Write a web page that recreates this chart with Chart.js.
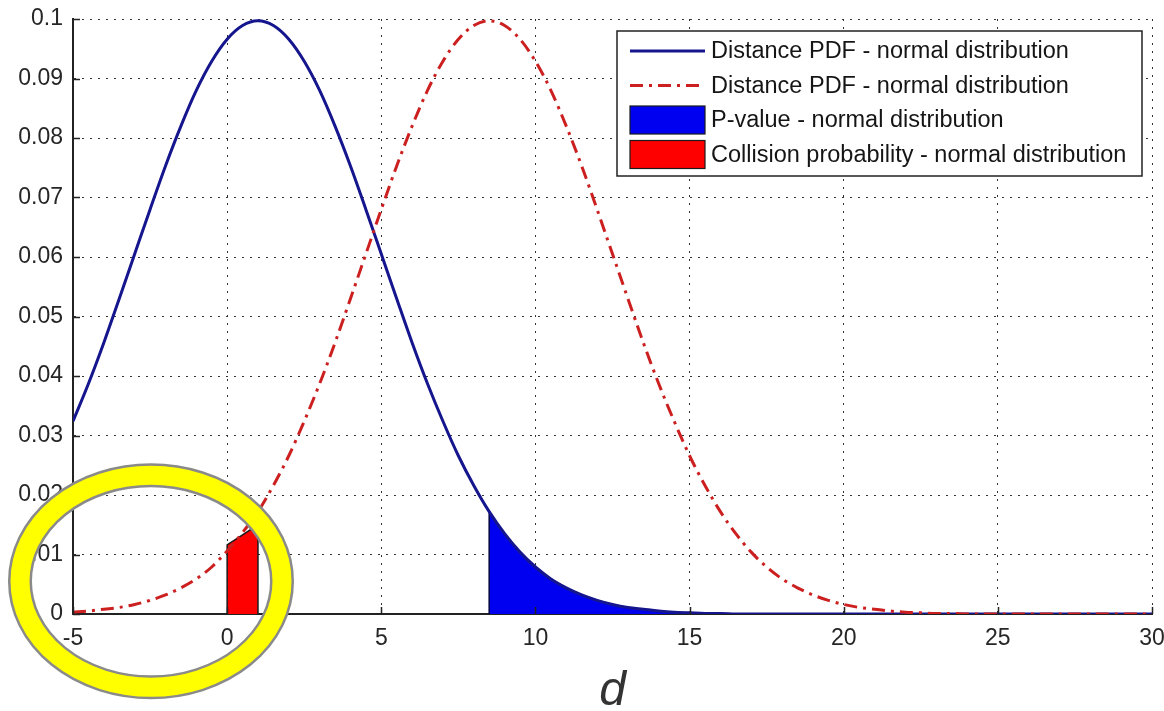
<!DOCTYPE html>
<html>
<head>
<meta charset="utf-8">
<script src="https://cdn.jsdelivr.net/npm/chart.js@4/dist/chart.umd.min.js"></script>
<style>
  html, body { margin: 0; padding: 0; background: #ffffff; }
  #wrap { width: 1164px; height: 711px; position: relative; }
</style>
</head>
<body>
<div id="wrap"><canvas id="c" width="1164" height="711"></canvas></div>
<script>
// ---- data ----
const xValues = [-5,-4.5,-4,-3.5,-3,-2.5,-2,-1.5,-1,-0.5,0,0.5,1,1.5,2,2.5,3,3.5,4,4.5,5,5.5,6,6.5,7,7.5,8,8.5,9,9.5,10,10.5,11,11.5,12,12.5,13,13.5,14,14.5,15,15.5,16,16.5,17,17.5,18,18.5,19,19.5,20,20.5,21,21.5,22,22.5,23,23.5,24,25,26,27,28,29,30];

const bluePdf = [0.0324,0.0387,0.0456,0.0530,0.0605,0.0680,0.0753,0.0820,0.0880,0.0929,0.0966,0.0989,0.0997,0.0989,0.0966,0.0929,0.0880,0.0820,0.0753,0.0680,0.0605,0.0530,0.0456,0.0387,0.0324,0.0266,0.0216,0.0172,0.0135,0.0104,0.0079,0.0059,0.0044,0.0032,0.0023,0.0016,0.0011,0.0008,0.0005,0.0003,0.0002,0.0001,0.0001,0,0,0,0,0,0,0,0,0,0,0,0,0,0,0,0,0,0,0,0,0,0];

const redPdf = [0.0003,0.0005,0.0008,0.0011,0.0016,0.0023,0.0032,0.0044,0.0059,0.0079,0.0106,0.0137,0.0172,0.0216,0.0266,0.0324,0.0387,0.0456,0.0530,0.0605,0.0680,0.0753,0.0820,0.0880,0.0929,0.0966,0.0989,0.0997,0.0989,0.0966,0.0929,0.0880,0.0820,0.0753,0.0680,0.0605,0.0530,0.0456,0.0387,0.0324,0.0266,0.0216,0.0172,0.0135,0.0104,0.0079,0.0059,0.0044,0.0032,0.0023,0.0016,0.0011,0.0008,0.0005,0.0003,0.0002,0.0001,0.0001,0,0,0,0,0,0,0];

const pValueFrom = 8.5;                 // P-value area starts here (blue curve tail)
const collisionX = [0, 0.5, 1];         // collision probability area
const collisionY = [0.0116, 0.0133, 0.0150];

const xTickLabels = ['-5','0','5','10','15','20','25','30'];
const yTickLabels = ['0','0.01','0.02','0.03','0.04','0.05','0.06','0.07','0.08','0.09','0.1'];

const seriesLabels = [
  'Distance PDF - normal distribution',
  'Distance PDF - normal distribution',
  'P-value - normal distribution',
  'Collision probability - normal distribution'
];
const xTitle = 'd';
const highlight = { x: -2.47, y: 0.0055 };   // centre of the yellow ring (data units)

// ---- build datasets ----
const bluePts = xValues.map((x, i) => ({ x, y: bluePdf[i] }));
const redPts  = xValues.map((x, i) => ({ x, y: redPdf[i] }));
const tail = xValues.map((x, i) => ({ x, y: bluePdf[i] })).filter(p => p.x >= pValueFrom);
const pValuePts = [{ x: pValueFrom, y: 0 }, ...tail, { x: xValues[xValues.length - 1], y: 0 }];
const collisionPts = [{ x: collisionX[0], y: 0 },
  ...collisionX.map((x, i) => ({ x, y: collisionY[i] })),
  { x: collisionX[collisionX.length - 1], y: 0 }];

const BLUE_LINE = '#15158e';
const RED_LINE = '#cc2020';
const FONT = "'Liberation Sans', Arial, Helvetica, sans-serif";

const legendPlugin = {
  id: 'boxLegend',
  afterDraw(chart) {
    const ctx = chart.ctx;
    const ca = chart.chartArea;
    const w = 525, h = 145;
    const x0 = ca.right - 10 - w, y0 = ca.top + 12;
    ctx.save();
    ctx.fillStyle = '#ffffff';
    ctx.fillRect(x0, y0, w, h);
    ctx.strokeStyle = '#222';
    ctx.lineWidth = 1.5;
    ctx.strokeRect(x0, y0, w, h);
    const rowH = 34.5;
    const sx0 = x0 + 13, sx1 = x0 + 88;
    ctx.font = '23.5px ' + FONT;
    ctx.textBaseline = 'middle';
    ctx.fillStyle = '#151515';
    seriesLabels.forEach((lab, i) => {
      const cy = y0 + 20 + i * rowH;
      if (i === 0) {
        ctx.strokeStyle = BLUE_LINE; ctx.lineWidth = 3; ctx.setLineDash([]);
        ctx.beginPath(); ctx.moveTo(sx0, cy); ctx.lineTo(sx1, cy); ctx.stroke();
      } else if (i === 1) {
        ctx.strokeStyle = RED_LINE; ctx.lineWidth = 3; ctx.setLineDash([13, 6, 3, 6]);
        ctx.beginPath(); ctx.moveTo(sx0, cy); ctx.lineTo(sx1, cy); ctx.stroke();
        ctx.setLineDash([]);
      } else {
        ctx.fillStyle = i === 2 ? '#0000f0' : '#ff0000';
        ctx.fillRect(sx0, cy - 14, sx1 - sx0, 28);
        ctx.strokeStyle = '#1a1a1a'; ctx.lineWidth = 1.2;
        ctx.strokeRect(sx0, cy - 14, sx1 - sx0, 28);
        ctx.fillStyle = '#151515';
      }
      ctx.fillText(lab, sx1 + 6, cy + 1);
    });
    ctx.restore();
  }
};

const innerTicks = {
  id: 'innerTicks',
  afterDatasetsDraw(chart) {
    const ctx = chart.ctx, ca = chart.chartArea;
    const xs = chart.scales.x, ys = chart.scales.y;
    ctx.save();
    ctx.strokeStyle = '#222'; ctx.lineWidth = 1.5;
    ys.ticks.forEach(t => {
      const py = Math.round(ys.getPixelForValue(t.value)) + 0.5;
      ctx.beginPath(); ctx.moveTo(ca.left, py); ctx.lineTo(ca.left + 7, py); ctx.stroke();
    });
    xs.ticks.forEach(t => {
      const px = Math.round(xs.getPixelForValue(t.value)) + 0.5;
      ctx.beginPath(); ctx.moveTo(px, ca.bottom); ctx.lineTo(px, ca.bottom - 7); ctx.stroke();
    });
    ctx.restore();
  }
};

const ringPlugin = {
  id: 'ring',
  afterDraw(chart) {
    const ctx = chart.ctx;
    const cx = chart.scales.x.getPixelForValue(highlight.x);
    const cy = chart.scales.y.getPixelForValue(highlight.y);
    ctx.save();
    ctx.beginPath();
    ctx.ellipse(cx, cy, 131, 106, 0, 0, Math.PI * 2);
    ctx.strokeStyle = '#8a8a8a'; ctx.lineWidth = 24; ctx.stroke();
    ctx.strokeStyle = '#ffff00'; ctx.lineWidth = 19; ctx.stroke();
    ctx.restore();
  }
};

new Chart(document.getElementById('c'), {
  type: 'line',
  data: {
    datasets: [
      { label: seriesLabels[0], data: bluePts, borderColor: BLUE_LINE, borderWidth: 3,
        pointRadius: 0, cubicInterpolationMode: 'monotone', fill: false, order: 2 },
      { label: seriesLabels[1], data: redPts, borderColor: RED_LINE, borderWidth: 3,
        borderDash: [13, 6, 3, 6], pointRadius: 0, cubicInterpolationMode: 'monotone', fill: false, order: 1 },
      { label: seriesLabels[2], data: pValuePts, borderColor: '#000040', borderWidth: 1.5,
        backgroundColor: '#0000f0', pointRadius: 0, tension: 0, fill: 'origin', order: 3 },
      { label: seriesLabels[3], data: collisionPts, borderColor: '#1a1a1a', borderWidth: 1.5,
        backgroundColor: '#ff0000', pointRadius: 0, tension: 0, fill: 'origin', order: 3 }
    ]
  },
  options: {
    responsive: false,
    animation: false,
    parsing: true,
    layout: { padding: { top: 19, right: 12, left: 0, bottom: 0 } },
    plugins: { legend: { display: false }, tooltip: { enabled: false } },
    scales: {
      x: {
        type: 'linear', min: -5, max: 30,
        afterFit(s) { s.height = 97; s.paddingLeft = 0; s.paddingRight = 0; },
        ticks: { stepSize: 5, padding: 11, color: '#262626', maxRotation: 0,
          font: { family: FONT, size: 23 },
          callback: (v, i) => xTickLabels[i] },
        grid: { color: '#333', lineWidth: 1, drawTicks: false },
        border: { display: true, color: '#222', width: 2, dash: [2, 6] },
        title: { display: true, text: xTitle, color: '#333', padding: { top: 0, bottom: 0 },
          font: { family: FONT, size: 48, style: 'italic', lineHeight: 0.8 } }
      },
      y: {
        type: 'linear', min: 0, max: 0.1,
        afterFit(s) { s.width = 73; s.paddingTop = 0; s.paddingBottom = 0; },
        ticks: { stepSize: 0.01, padding: 10, color: '#262626',
          font: { family: FONT, size: 23 },
          callback: (v, i) => yTickLabels[i] },
        grid: { color: '#333', lineWidth: 1, drawTicks: false },
        border: { display: true, color: '#222', width: 2, dash: [2, 6] }
      }
    }
  },
  plugins: [innerTicks, legendPlugin, ringPlugin]
});
</script>
</body>
</html>
